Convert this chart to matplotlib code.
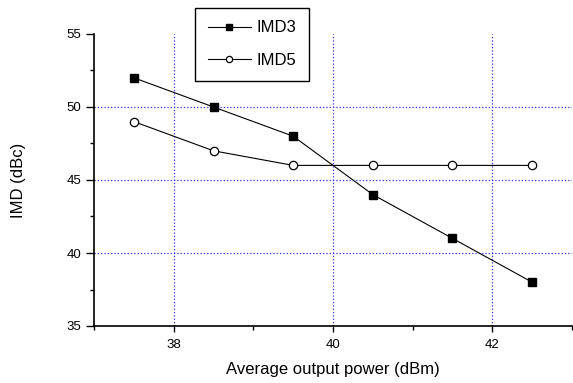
import matplotlib
matplotlib.use("Agg")
import matplotlib.pyplot as plt
from matplotlib.ticker import MultipleLocator

plt.rcParams['font.family'] = ['Liberation Sans', 'DejaVu Sans']

power = [37.5, 38.5, 39.5, 40.5, 41.5, 42.5]
imd3 = [52, 50, 48, 44, 41, 38]
imd5 = [49, 47, 46, 46, 46, 46]

fig = plt.figure(figsize=(5.73, 3.83), dpi=100)
ax = fig.add_axes([94/573, 1-326/383, (572-94)/573, (326-34)/383])

ax.plot(power, imd3, color='black', lw=0.8, marker='s', ms=6, mfc='black', mec='black', label='IMD3')
ax.plot(power, imd5, color='black', lw=0.8, marker='o', ms=6, mfc='white', mec='black', mew=0.9, label='IMD5')

ax.set_xlim(37, 43)
ax.set_ylim(35, 55)
ax.xaxis.set_major_locator(MultipleLocator(2))
ax.xaxis.set_minor_locator(MultipleLocator(1))
ax.yaxis.set_major_locator(MultipleLocator(5))
ax.yaxis.set_minor_locator(MultipleLocator(2.5))
ax.grid(True, which='major', color='#3030ff', linestyle=':', linewidth=0.9)
for gl, t in zip(ax.yaxis.get_gridlines(), ax.yaxis.get_majorticklocs()):
    if t >= 55 or t <= 35:
        gl.set_visible(False)
for s in ['top', 'right']:
    ax.spines[s].set_visible(False)
for s in ['left', 'bottom']:
    ax.spines[s].set_linewidth(1.2)
ax.tick_params(axis='y', which='major', direction='out', length=6, width=1, labelsize=9.5, pad=3)
ax.tick_params(axis='x', which='major', direction='out', length=4, width=1, labelsize=9.5, pad=5)
ax.tick_params(which='minor', direction='out', length=3, width=1)

ax.set_xlabel('Average output power (dBm)', fontsize=12)
ax.set_ylabel('IMD (dBc)', fontsize=12)
ax.xaxis.set_label_coords(0.5, (326-362)/292)
ax.yaxis.set_label_coords((26-94)/478, 0.5)

leg = fig.legend(loc='upper left', bbox_to_anchor=(195/573, 1-8/383), fontsize=12,
                 frameon=True, fancybox=False, edgecolor='black', framealpha=1,
                 handlelength=2.6, handletextpad=0.35, borderpad=0.75, labelspacing=1.05,
                 borderaxespad=0, markerscale=0.75)
leg.get_frame().set_linewidth(1)

fig.savefig('out.png', dpi=100)
